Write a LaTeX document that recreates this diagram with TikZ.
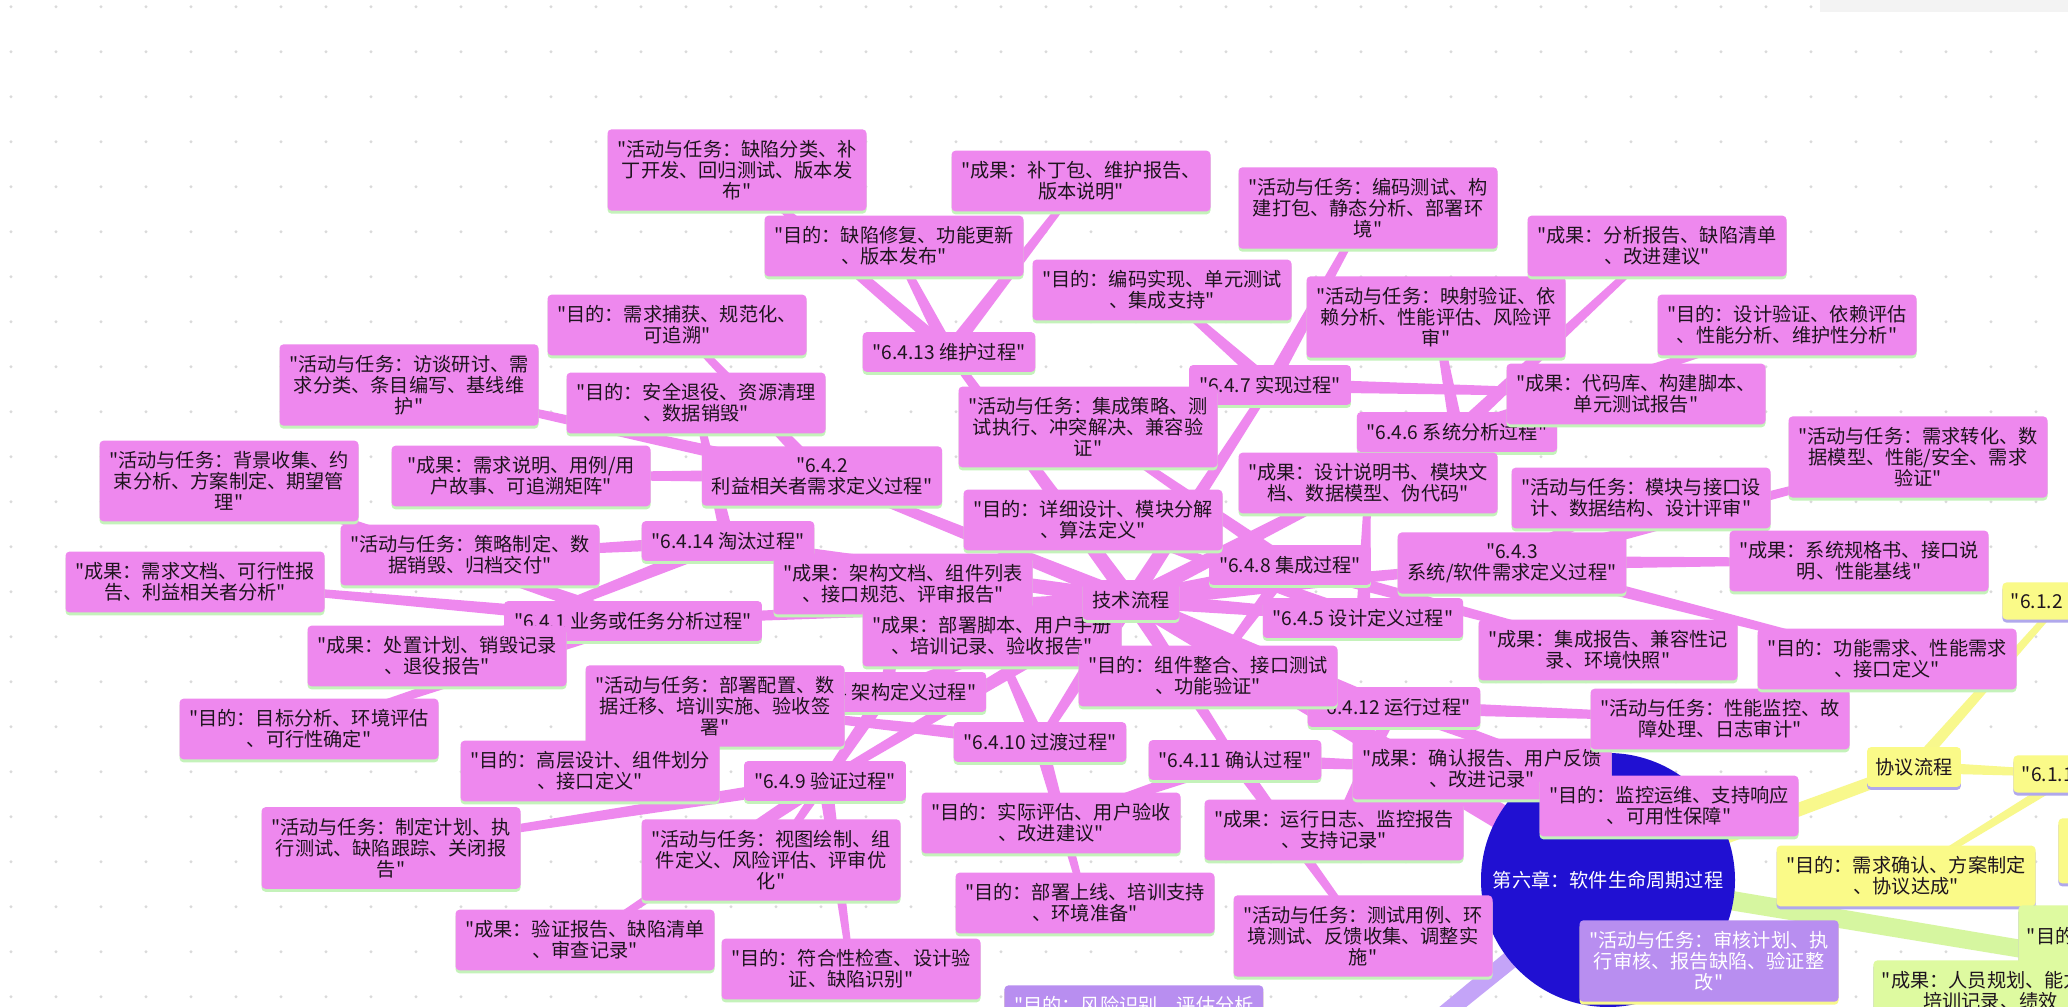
\documentclass[tikz,border=0pt]{standalone}
\usepackage{fontspec}
\newfontfamily\cjk{Noto Sans CJK SC}
\usetikzlibrary{calc,shadows}

\definecolor{dotgray}{RGB}{218,218,218}
\definecolor{panelgray}{RGB}{243,243,243}
\definecolor{pinkbox}{RGB}{238,136,238}
\definecolor{greenrim}{RGB}{196,242,186}
\definecolor{yellowbox}{RGB}{250,250,136}
\definecolor{yellowline}{RGB}{248,248,140}
\definecolor{violetrim}{RGB}{176,168,236}
\definecolor{limebox}{RGB}{222,250,160}
\definecolor{limeline}{RGB}{214,246,160}
\definecolor{lilacbox}{RGB}{184,142,240}
\definecolor{lilacline}{RGB}{196,164,248}
\definecolor{chapterblue}{RGB}{32,16,210}
\definecolor{ink}{RGB}{30,20,30}

\pgfdeclarelayer{under}
\pgfsetlayers{under,main}

% tapered branch between two named nodes
\newcommand\twig[5][pinkbox]{%
  \fill[#1] ($(#2.center)!#4!90:(#3.center)$) -- ($(#3.center)!#5!-90:(#2.center)$)
    -- ($(#3.center)!#5!90:(#2.center)$) -- ($(#2.center)!#4!-90:(#3.center)$) -- cycle;}

\begin{document}
\begin{tikzpicture}[x=0.5pt,y=-0.5pt]
	\tikzset{
		card/.style={rounded corners=2pt, text=ink, font=\cjk\fontsize{9.6pt}{10.4pt}\selectfont, align=center, inner xsep=4.25pt, inner ysep=5.5pt},
		pinkcard/.style={card, fill=pinkbox, general shadow={fill=greenrim, shadow yshift=-1.5pt}},
		leaf/.style={pinkcard, text width=121pt},
		stage/.style={pinkcard, inner xsep=5pt},
		yellowcard/.style={card, fill=yellowbox, general shadow={fill=violetrim, shadow yshift=-1.5pt}},
		limecard/.style={card, fill=limebox, general shadow={fill=violetrim, shadow yshift=-1.5pt}},
		lilaccard/.style={card, fill=lilacbox, text=white, text width=121pt, general shadow={fill=yellowline, shadow yshift=-1.5pt}}
	}
	\useasboundingbox (0,0) rectangle (2068,1007);
	\fill[panelgray] (1820,0) rectangle (2068,12);

	\node[circle, fill=chapterblue, minimum size=127pt, inner sep=0pt, text=white, font=\cjk\fontsize{9.6pt}{10.4pt}\selectfont] (chapter) at (1608,880) {第六章：软件生命周期过程};

	% processes
	\node[stage] (s641) at (633,621) {"6.4.1 业务或任务分析过程"};
	\node[stage] (s642) at (822,476) {"6.4.2\\利益相关者需求定义过程"};
	\node[stage] (s643) at (1512,563) {"6.4.3\\系统/软件需求定义过程"};
	\node[stage] (s644) at (886,692) {"6.4.4 架构定义过程"};
	\node[stage] (s645) at (1363,618) {"6.4.5 设计定义过程"};
	\node[stage] (s646) at (1457,432) {"6.4.6 系统分析过程"};
	\node[stage] (s647) at (1270,385) {"6.4.7 实现过程"};
	\node[stage] (s648) at (1290,565) {"6.4.8 集成过程"};
	\node[stage] (s649) at (825,781) {"6.4.9 验证过程"};
	\node[stage] (s6410) at (1040,742) {"6.4.10 过渡过程"};
	\node[stage] (s6411) at (1235,760) {"6.4.11 确认过程"};
	\node[stage] (s6412) at (1394,707) {"6.4.12 运行过程"};
	\node[stage] (s6413) at (949,352) {"6.4.13 维护过程"};
	\node[stage] (s6414) at (728,541) {"6.4.14 淘汰过程"};

	% aims, activities, outputs
	\node[leaf] (s6413act) at (737,170) {"活动与任务：缺陷分类、补\\丁开发、回归测试、版本发\\布"};
	\node[leaf] (s6413out) at (1081,181) {"成果：补丁包、维护报告、\\版本说明"};
	\node[leaf] (s6413aim) at (894,246) {"目的：缺陷修复、功能更新\\、版本发布"};
	\node[leaf] (s642aim) at (677,325) {"目的：需求捕获、规范化、\\可追溯"};
	\node[leaf] (s642act) at (409,385) {"活动与任务：访谈研讨、需\\求分类、条目编写、基线维\\护"};
	\node[leaf] (s642out) at (521,476) {"成果：需求说明、用例/用\\户故事、可追溯矩阵"};
	\node[leaf] (s6414aim) at (696,403) {"目的：安全退役、资源清理\\、数据销毁"};
	\node[leaf] (s6414act) at (470,555) {"活动与任务：策略制定、数\\据销毁、归档交付"};
	\node[leaf] (s6414out) at (437,656) {"成果：处置计划、销毁记录\\、退役报告"};
	\node[leaf] (s647aim) at (1162,290) {"目的：编码实现、单元测试\\、集成支持"};
	\node[leaf] (s647act) at (1368,208) {"活动与任务：编码测试、构\\建打包、静态分析、部署环\\境"};
	\node[leaf] (s646act) at (1436,317) {"活动与任务：映射验证、依\\赖分析、性能评估、风险评\\审"};
	\node[leaf] (s646out) at (1657,246) {"成果：分析报告、缺陷清单\\、改进建议"};
	\node[leaf] (s646aim) at (1787,325) {"目的：设计验证、依赖评估\\、性能分析、维护性分析"};
	\node[leaf] (s647out) at (1636,394) {"成果：代码库、构建脚本、\\单元测试报告"};
	\node[leaf] (s641act) at (229,481) {"活动与任务：背景收集、约\\束分析、方案制定、期望管\\理"};
	\node[leaf] (s641out) at (195,582) {"成果：需求文档、可行性报\\告、利益相关者分析"};
	\node[leaf] (s641aim) at (309,729) {"目的：目标分析、环境评估\\、可行性确定"};
	\node[leaf] (s648act) at (1088,427) {"活动与任务：集成策略、测\\试执行、冲突解决、兼容验\\证"};
	\node[leaf] (s645aim) at (1093,520) {"目的：详细设计、模块分解\\、算法定义"};
	\node[leaf] (s645out) at (1368,483) {"成果：设计说明书、模块文\\档、数据模型、伪代码"};
	\node[leaf] (s645act) at (1641,498) {"活动与任务：模块与接口设\\计、数据结构、设计评审"};
	\node[leaf] (s644out) at (903,584) {"成果：架构文档、组件列表\\、接口规范、评审报告"};
	\node[leaf] (s6410out) at (992,636) {"成果：部署脚本、用户手册\\、培训记录、验收报告"};
	\node[leaf] (s648aim) at (1208,676) {"目的：组件整合、接口测试\\、功能验证"};
	\node[leaf] (s648out) at (1608,650) {"成果：集成报告、兼容性记\\录、环境快照"};
	\node[leaf] (s6410act) at (715,706) {"活动与任务：部署配置、数\\据迁移、培训实施、验收签\\署"};
	\node[leaf] (s644aim) at (590,771) {"目的：高层设计、组件划分\\、接口定义"};
	\node[leaf] (s644act) at (771,860) {"活动与任务：视图绘制、组\\件定义、风险评估、评审优\\化"};
	\node[leaf] (s649act) at (391,848) {"活动与任务：制定计划、执\\行测试、缺陷跟踪、关闭报\\告"};
	\node[leaf] (s649out) at (585,940) {"成果：验证报告、缺陷清单\\、审查记录"};
	\node[leaf] (s649aim) at (851,969) {"目的：符合性检查、设计验\\证、缺陷识别"};
	\node[leaf] (s6411aim) at (1051,823) {"目的：实际评估、用户验收\\、改进建议"};
	\node[leaf] (s6410aim) at (1085,903) {"目的：部署上线、培训支持\\、环境准备"};
	\node[leaf] (s6412out) at (1334,830) {"成果：运行日志、监控报告\\、支持记录"};
	\node[leaf] (s6411act) at (1363,936) {"活动与任务：测试用例、环\\境测试、反馈收集、调整实\\施"};
	\node[leaf] (s6411out) at (1482,769) {"成果：确认报告、用户反馈\\、改进记录"};
	\node[leaf] (s6412aim) at (1669,806) {"目的：监控运维、支持响应\\、可用性保障"};
	\node[leaf] (s6412act) at (1720,719) {"活动与任务：性能监控、故\\障处理、日志审计"};
	\node[leaf] (s643act) at (1918,457) {"活动与任务：需求转化、数\\据模型、性能/安全、需求\\验证"};
	\node[leaf] (s643out) at (1859,561) {"成果：系统规格书、接口说\\明、性能基线"};
	\node[leaf] (s643aim) at (1887,659) {"目的：功能需求、性能需求\\、接口定义"};

	\node[stage] (flow) at (1131,600) {技术流程};

	% agreement branch
	\node[yellowcard] (deal) at (1914,767) {协议流程};
	\node[yellowcard, anchor=west, text width=50pt, align=left] (s612) at (2002,601) {"6.1.2};
	\node[yellowcard, anchor=west, text width=50pt, align=left] (s611) at (2013,774) {"6.1.1};
	\node[yellowcard, text width=121pt] (dealaim) at (1906,876) {"目的：需求确认、方案制定\\、协议达成"};
	\node[yellowcard, anchor=north west, minimum width=40pt, minimum height=32.5pt] (dealside) at (2058,818) {};

	% other branches
	\node[limecard, anchor=north west, text width=60pt, align=left, minimum height=31pt] (limeaim) at (2018,905) {"目的};
	\node[limecard, anchor=north west, text width=121pt, align=left] (limeout) at (1873,960) {"成果：人员规划、能力\\\hspace*{20.7pt}培训记录、绩效};
	\node[lilaccard] (lilacact) at (1709,961) {"活动与任务：审核计划、执\\行审核、报告缺陷、验证整\\改"};
	\node[lilaccard, anchor=north west] (lilacaim) at (1004,985) {"目的：风险识别、评估分析\\\mbox{}};

	\coordinate (limefar) at (2400,1012);
	\coordinate (lilacfar) at (1400,1050);

	\begin{pgfonlayer}{under}
		\fill[white] (0,0) rectangle (2068,1007);
		\foreach \gx in {0,...,45}
			\foreach \gy in {0,...,22}
				\fill[dotgray] (11+\gx*45, 6.7+\gy*45) circle (0.8pt);
		\twig[limeline]{chapter}{limefar}{5pt}{4pt}
		\twig[lilacline]{chapter}{lilacfar}{5pt}{4pt}
		\twig[yellowline]{chapter}{deal}{4pt}{3pt}
		\twig[yellowline]{deal}{s612}{3pt}{1.5pt}
		\twig[yellowline]{deal}{s611}{3pt}{1.5pt}
		\twig[yellowline]{s611}{dealaim}{2.5pt}{1.2pt}
		\twig{chapter}{flow}{7pt}{4pt}
		\foreach \s in {s641,s642,s643,s644,s645,s646,s647,s648,s649,s6410,s6411,s6412,s6413,s6414}{
			\twig{flow}{\s}{4pt}{2pt}
			\foreach \k in {aim,act,out}{\twig{\s}{\s\k}{3.5pt}{1.5pt}}
		}
	\end{pgfonlayer}
\end{tikzpicture}
\end{document}
